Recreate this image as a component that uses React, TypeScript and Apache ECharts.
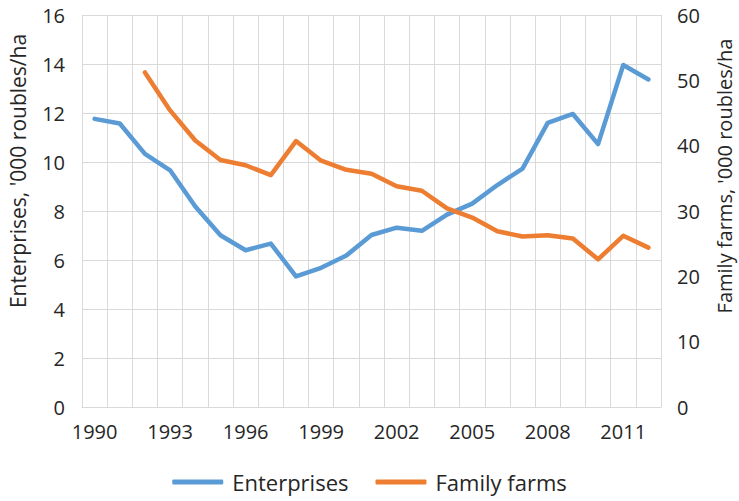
import React, { useEffect, useRef } from "react";
import * as echarts from "echarts";

const years = [
  "1990", "1991", "1992", "1993", "1994", "1995", "1996", "1997", "1998", "1999", "2000",
  "2001", "2002", "2003", "2004", "2005", "2006", "2007", "2008", "2009", "2010", "2011", "2012",
];
const enterprises = [
  11.76, 11.57, 10.33, 9.66, 8.18, 7.01, 6.4, 6.67, 5.33, 5.68, 6.18,
  7.02, 7.32, 7.19, 7.85, 8.3, 9.06, 9.73, 11.6, 11.96, 10.73, 13.96, 13.37,
];
const familyFarms = [
  null, null, 51.2, 45.4, 40.8, 37.8, 37.0, 35.5, 40.7, 37.7, 36.3,
  35.7, 33.8, 33.1, 30.4, 29.0, 26.9, 26.1, 26.3, 25.8, 22.6, 26.2, 24.4,
];
const leftTitle = "Enterprises, '000 roubles/ha";
const rightTitle = "Family farms, '000 roubles/ha";

const FONT = "Open Sans";
const TXT = "#262626";

export default function App() {
  const ref = useRef<HTMLDivElement>(null);
  useEffect(() => {
    if (!ref.current) return;
    const chart = echarts.init(ref.current, undefined, { renderer: "svg" });
    chart.setOption({
      animation: false,
      textStyle: { fontFamily: FONT, color: TXT },
      grid: { left: 82, right: 78, top: 15, bottom: 94 },
      graphic: [
        {
          type: "text",
          x: 18,
          y: 171,
          rotation: Math.PI / 2,
          style: {
            text: leftTitle,
            fontFamily: FONT,
            fontSize: 21,
            fill: TXT,
            align: "center",
            verticalAlign: "middle",
          },
        },
        {
          type: "text",
          x: 724,
          y: 176,
          rotation: Math.PI / 2,
          style: {
            text: rightTitle,
            fontFamily: FONT,
            fontSize: 20,
            fill: TXT,
            align: "center",
            verticalAlign: "middle",
          },
        },
      ],
      legend: {
        bottom: 3,
        left: "center",
        icon: "roundRect",
        itemWidth: 51,
        itemHeight: 5,
        itemGap: 27,
        textStyle: { fontFamily: FONT, fontSize: 22, color: TXT, padding: [0, 0, 0, 4] },
        data: ["Enterprises", "Family farms"],
      },
      xAxis: {
        type: "category",
        data: years,
        boundaryGap: true,
        axisTick: { show: false },
        axisLine: { show: true, lineStyle: { color: "#d9d9d9", width: 1 } },
        axisLabel: { interval: 2, fontSize: 20, color: TXT, fontFamily: FONT, margin: 14 },
        splitLine: { show: true, interval: 0, lineStyle: { color: "#d9d9d9", width: 1 } },
      },
      yAxis: [
        {
          type: "value",
          min: 0,
          max: 16,
          interval: 2,
          axisLine: { show: false },
          axisTick: { show: false },
          axisLabel: { fontSize: 20, color: TXT, fontFamily: FONT, margin: 17 },
          splitLine: { show: true, lineStyle: { color: "#d9d9d9", width: 1 } },
        },
        {
          type: "value",
          min: 0,
          max: 60,
          interval: 10,
          position: "right",
          axisLine: { show: false },
          axisTick: { show: false },
          axisLabel: { fontSize: 20, color: TXT, fontFamily: FONT, margin: 16 },
          splitLine: { show: false },
        },
      ],
      series: [
        {
          name: "Enterprises",
          type: "line",
          data: enterprises,
          yAxisIndex: 0,
          symbol: "none",
          lineStyle: { color: "#5B9BD5", width: 4.5, cap: "round", join: "round" },
          itemStyle: { color: "#5B9BD5" },
        },
        {
          name: "Family farms",
          type: "line",
          data: familyFarms,
          yAxisIndex: 1,
          symbol: "none",
          lineStyle: { color: "#ED7D31", width: 4.5, cap: "round", join: "round" },
          itemStyle: { color: "#ED7D31" },
        },
      ],
    });
    return () => chart.dispose();
  }, []);
  return (
    <div
      ref={ref}
      style={{ position: "fixed", left: 0, top: 0, width: 739, height: 501, background: "#fff" }}
    />
  );
}
